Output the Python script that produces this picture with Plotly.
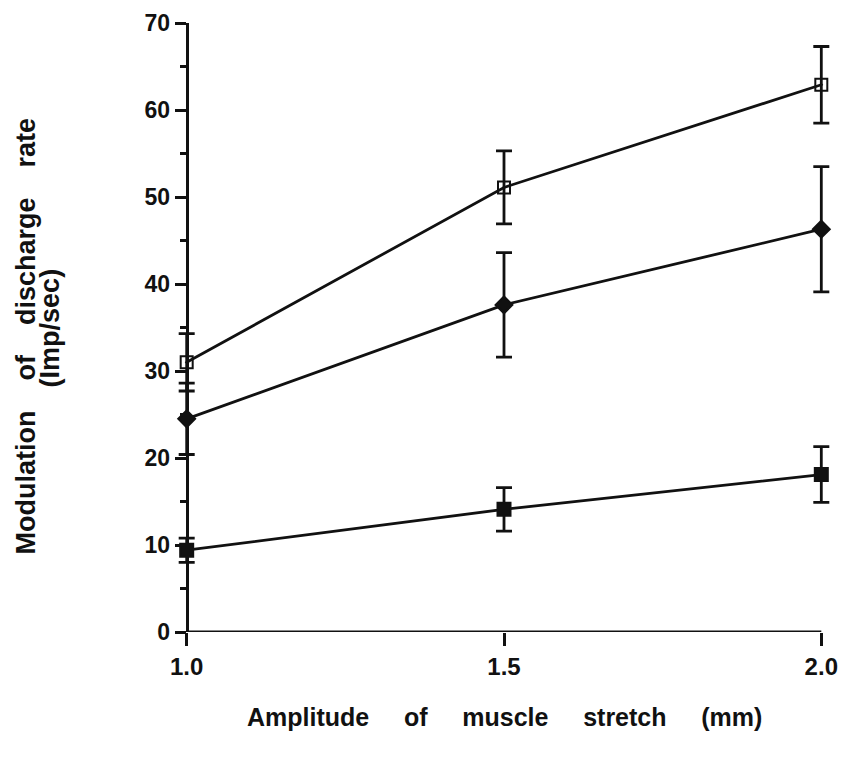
import plotly.graph_objects as go

amplitude = [1.0, 1.5, 2.0]

open_sq_mean = [31.0, 51.1, 62.9]
open_sq_err = [3.3, 4.2, 4.4]

diamond_mean = [24.5, 37.6, 46.3]
diamond_err = [4.1, 6.0, 7.2]

filled_sq_mean = [9.4, 14.1, 18.1]
filled_sq_err = [1.4, 2.5, 3.2]

x_ticks = [1.0, 1.5, 2.0]
x_tick_labels = ["1.0", "1.5", "2.0"]
y_ticks = [0, 10, 20, 30, 40, 50, 60, 70]

FONT = "Liberation Sans"
BLACK = "#111111"
W, H = 848, 758

# pixel layout of the data frame (x=1.0 at 187px, x=2.0 at 825px; y=70 at 17px, y=0 at 632px)
X_LO, X_HI = 0.98, 2.02
px_per_unit = (825 - 187) / 1.0
ML = 187 - (1.0 - X_LO) * px_per_unit
MR = W - (825 + (X_HI - 2.0) * px_per_unit)
MT, MB = 17, H - 632

fig = go.Figure()

def add_series(y, err, symbol, size):
    fig.add_trace(go.Scatter(
        x=amplitude, y=y, mode="lines+markers",
        line=dict(color=BLACK, width=2.8),
        marker=dict(symbol=symbol, size=size, color=BLACK,
                    line=dict(color=BLACK, width=2)),
        error_y=dict(type="data", array=err, visible=True,
                     color=BLACK, thickness=2.8, width=8),
        cliponaxis=False, showlegend=False,
    ))

add_series(filled_sq_mean, filled_sq_err, "square", 13)
add_series(diamond_mean, diamond_err, "diamond", 13)
add_series(open_sq_mean, open_sq_err, "square-open-dot", 12)

fig.update_layout(
    width=W, height=H,
    margin=dict(l=ML, r=MR, t=MT, b=MB),
    paper_bgcolor="white", plot_bgcolor="white",
    font=dict(family=FONT, color=BLACK),
)

fig.update_xaxes(
    range=[X_LO, X_HI], tickvals=x_ticks, ticktext=x_tick_labels,
    showgrid=False, zeroline=False, showline=False,
    ticks="outside", ticklen=13, tickwidth=2.5, tickcolor=BLACK,
    tickfont=dict(family=FONT, size=24, color=BLACK, weight="bold"),
)

y_axis_pos = (1.0 - X_LO) / (X_HI - X_LO)
fig.update_yaxes(
    range=[0, 70], tickvals=y_ticks,
    anchor="free", position=y_axis_pos,
    showgrid=False, zeroline=False,
    showline=True, linecolor=BLACK, linewidth=3,
    ticks="outside", ticklen=11, tickwidth=2.5, tickcolor=BLACK,
    tickfont=dict(family=FONT, size=23, color=BLACK, weight="bold"),
    minor=dict(dtick=5, tick0=5, ticks="outside", ticklen=6,
               tickwidth=2.5, tickcolor=BLACK, showgrid=False),
)

# x axis baseline from x=1.0 to x=2.0 at y=0
fig.add_shape(type="line", xref="x", yref="y",
              x0=x_ticks[0], x1=x_ticks[-1], y0=y_ticks[0], y1=y_ticks[0],
              line=dict(color=BLACK, width=3), layer="above")

pw = W - ML - MR
ph = H - MT - MB
def px(xp):
    return (xp - ML) / pw
def py(yp):
    return (H - MB - yp) / ph

sp = "\u00a0" * 4
fig.add_annotation(
    x=px(25), y=py(333), xref="paper", yref="paper", showarrow=False,
    xanchor="center", yanchor="middle",
    text=f"Modulation{sp}of{sp}discharge{sp}rate",
    textangle=-90, font=dict(family=FONT, size=27, color=BLACK, weight="bold"),
)
fig.add_annotation(
    x=px(50), y=py(325), xref="paper", yref="paper", showarrow=False,
    xanchor="center", yanchor="middle",
    text="(Imp/sec)",
    textangle=-90, font=dict(family=FONT, size=27, color=BLACK, weight="bold"),
)
sx = "\u00a0" * 5
fig.add_annotation(
    x=px(506), y=py(718), xref="paper", yref="paper", showarrow=False,
    xanchor="center", yanchor="middle",
    text=f"Amplitude{sx}of{sx}muscle{sx}stretch{sx}(mm)",
    font=dict(family=FONT, size=25, color=BLACK, weight="bold"),
)

fig.write_html("out.html")
